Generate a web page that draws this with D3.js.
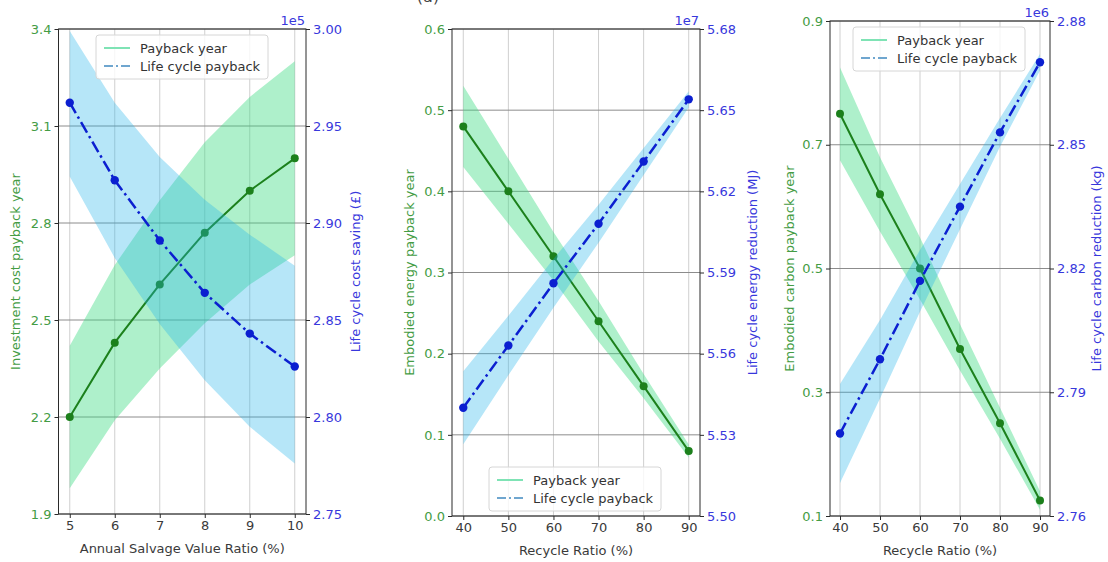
<!DOCTYPE html>
<html>
<head>
<meta charset="utf-8">
<script src="https://cdn.jsdelivr.net/npm/d3@7"></script>
<style>
  html, body { margin: 0; padding: 0; background: #fff; }
  svg { display: block; font-family: "DejaVu Sans", sans-serif; }
</style>
</head>
<body>
<svg id="chart" width="1108" height="562"></svg>
<script>
// ---- data ----
const salvageRatio = [5, 6, 7, 8, 9, 10];
const costPayback = [2.20, 2.43, 2.61, 2.77, 2.90, 3.00];
const costPaybackLow = [1.98, 2.19, 2.35, 2.49, 2.61, 2.70];
const costPaybackHigh = [2.42, 2.67, 2.87, 3.05, 3.19, 3.30];
const costSaving = [2.962, 2.922, 2.891, 2.864, 2.843, 2.826];        // x 1e5
const costSavingLow = [2.924, 2.882, 2.848, 2.819, 2.795, 2.776];
const costSavingHigh = [2.999, 2.962, 2.934, 2.912, 2.894, 2.878];

const recycleRatio = [40, 50, 60, 70, 80, 90];
const energyPayback = [0.48, 0.40, 0.32, 0.24, 0.16, 0.08];
const energyPaybackLow = [0.43, 0.36, 0.29, 0.215, 0.145, 0.072];
const energyPaybackHigh = [0.53, 0.44, 0.35, 0.265, 0.175, 0.088];
const energyReduction = [5.540, 5.563, 5.586, 5.608, 5.631, 5.654];   // x 1e7
const energyReductionLow = [5.5265, 5.552, 5.577, 5.601, 5.626, 5.651];
const energyReductionHigh = [5.5535, 5.574, 5.595, 5.615, 5.636, 5.657];

const carbonPayback = [0.75, 0.62, 0.50, 0.37, 0.25, 0.125];
const carbonPaybackLow = [0.675, 0.56, 0.45, 0.335, 0.225, 0.11];
const carbonPaybackHigh = [0.825, 0.68, 0.55, 0.41, 0.275, 0.14];
const carbonReduction = [2.780, 2.798, 2.817, 2.835, 2.853, 2.870];   // x 1e6
const carbonReductionLow = [2.768, 2.7885, 2.8095, 2.8295, 2.8495, 2.868];
const carbonReductionHigh = [2.792, 2.8075, 2.8245, 2.8405, 2.8565, 2.872];

// tick labels
const costPaybackTicks = ["1.9", "2.2", "2.5", "2.8", "3.1", "3.4"];
const costSavingTicks = ["2.75", "2.80", "2.85", "2.90", "2.95", "3.00"];
const energyPaybackTicks = ["0.0", "0.1", "0.2", "0.3", "0.4", "0.5", "0.6"];
const energyReductionTicks = ["5.50", "5.53", "5.56", "5.59", "5.62", "5.65", "5.68"];
const carbonPaybackTicks = ["0.1", "0.3", "0.5", "0.7", "0.9"];
const carbonReductionTicks = ["2.76", "2.79", "2.82", "2.85", "2.88"];

const legendLabels = ["Payback year", "Life cycle payback"];

// ---- styling ----
const C = {
  greenBand: "#3ddc84", greenBandOpacity: 0.42,
  blueBand: "#22b4ea", blueBandOpacity: 0.33,
  greenLine: "#1c801c", blueLine: "#0b1fd0",
  leftText: "#449c44", rightText: "#3838dc",
  gridH: "#8c8c8c", gridV: "#cfcfcf", spine: "#2a2a2a", tickText: "#3a3a3a"
};
const FS = 13;

const svg = d3.select("#chart");

// caption sitting at the very top edge
svg.append("text").attr("x", 428).attr("y", 2).attr("text-anchor", "middle")
  .attr("font-size", 16).attr("fill", "#444").text("(a)");

function panel(cfg) {
  const g = svg.append("g");
  const x = d3.scaleLinear().domain(cfg.xDomain).range([cfg.left, cfg.right]);
  const leftVals = cfg.leftTicks.map(Number);
  const rightVals = cfg.rightTicks.map(Number);
  const yL = d3.scaleLinear().domain(d3.extent(leftVals)).range([cfg.bottom, cfg.top]);
  const yR = d3.scaleLinear().domain(d3.extent(rightVals)).range([cfg.bottom, cfg.top]);

  // grid (host + twin grids coincide, giving darker horizontal lines)
  const grid = g.append("g");
  grid.selectAll(".v").data(cfg.xs).join("line")
    .attr("x1", d => x(d)).attr("x2", d => x(d))
    .attr("y1", cfg.top).attr("y2", cfg.bottom)
    .attr("stroke", C.gridV).attr("stroke-width", 1);
  grid.selectAll(".h").data(leftVals).join("line")
    .attr("x1", cfg.left).attr("x2", cfg.right)
    .attr("y1", d => yL(d)).attr("y2", d => yL(d))
    .attr("stroke", C.gridH).attr("stroke-width", 1);

  const idx = d3.range(cfg.xs.length);
  const areaL = d3.area().x(i => x(cfg.xs[i])).y0(i => yL(cfg.gLow[i])).y1(i => yL(cfg.gHigh[i]));
  const areaR = d3.area().x(i => x(cfg.xs[i])).y0(i => yR(cfg.bLow[i])).y1(i => yR(cfg.bHigh[i]));
  const lineL = d3.line().x(i => x(cfg.xs[i])).y(i => yL(cfg.g[i]));
  const lineR = d3.line().x(i => x(cfg.xs[i])).y(i => yR(cfg.b[i]));

  g.append("path").attr("d", areaL(idx)).attr("fill", C.greenBand).attr("fill-opacity", C.greenBandOpacity);
  g.append("path").attr("d", lineL(idx)).attr("fill", "none").attr("stroke", C.greenLine).attr("stroke-width", 2);
  g.selectAll(".gm").data(idx).join("circle")
    .attr("cx", i => x(cfg.xs[i])).attr("cy", i => yL(cfg.g[i])).attr("r", 4).attr("fill", C.greenLine);

  g.append("path").attr("d", areaR(idx)).attr("fill", C.blueBand).attr("fill-opacity", C.blueBandOpacity);
  g.append("path").attr("d", lineR(idx)).attr("fill", "none").attr("stroke", C.blueLine)
    .attr("stroke-width", 2.5).attr("stroke-dasharray", "12,4,2.5,4");
  g.selectAll(".bm").data(idx).join("circle")
    .attr("cx", i => x(cfg.xs[i])).attr("cy", i => yR(cfg.b[i])).attr("r", 4.2).attr("fill", C.blueLine);

  // spines
  g.append("rect").attr("x", cfg.left).attr("y", cfg.top)
    .attr("width", cfg.right - cfg.left).attr("height", cfg.bottom - cfg.top)
    .attr("fill", "none").attr("stroke", C.spine).attr("stroke-width", 1);

  // axes
  const ax = g.append("g").attr("transform", `translate(0,${cfg.bottom})`)
    .call(d3.axisBottom(x).tickValues(cfg.xs).tickFormat(d3.format("d")).tickSize(4).tickPadding(3));
  const ayL = g.append("g").attr("transform", `translate(${cfg.left},0)`)
    .call(d3.axisLeft(yL).tickValues(leftVals).tickFormat((d, i) => cfg.leftTicks[i]).tickSize(4).tickPadding(3));
  const ayR = g.append("g").attr("transform", `translate(${cfg.right},0)`)
    .call(d3.axisRight(yR).tickValues(rightVals).tickFormat((d, i) => cfg.rightTicks[i]).tickSize(4).tickPadding(3));
  [ax, ayL, ayR].forEach(a => {
    a.select(".domain").remove();
    a.selectAll("text").attr("font-size", FS).attr("font-family", "DejaVu Sans");
  });
  ax.selectAll("line").attr("stroke", C.spine);
  ax.selectAll("text").attr("fill", C.tickText);
  ayL.selectAll("line").attr("stroke", C.spine);
  ayL.selectAll("text").attr("fill", C.leftText);
  ayR.selectAll("line").attr("stroke", C.spine);
  ayR.selectAll("text").attr("fill", C.rightText);

  // offset text
  g.append("text").attr("x", cfg.right - 1).attr("y", cfg.top - 4).attr("text-anchor", "end")
    .attr("font-size", FS).attr("fill", C.rightText).text(cfg.offset);

  // axis titles
  const midY = (cfg.top + cfg.bottom) / 2;
  g.append("text").attr("transform", `translate(${cfg.leftLabelX},${midY}) rotate(-90)`)
    .attr("text-anchor", "middle").attr("font-size", FS).attr("fill", C.leftText).text(cfg.leftLabel);
  g.append("text").attr("transform", `translate(${cfg.rightLabelX},${midY}) rotate(-90)`)
    .attr("text-anchor", "middle").attr("font-size", FS).attr("fill", C.rightText).text(cfg.rightLabel);
  g.append("text").attr("x", (cfg.left + cfg.right) / 2).attr("y", cfg.bottom + 39)
    .attr("text-anchor", "middle").attr("font-size", FS).attr("fill", C.tickText).text(cfg.xLabel);

  // legend
  const L = cfg.legend;
  const lg = g.append("g").attr("transform", `translate(${L.x},${L.y})`);
  lg.append("rect").attr("width", L.w).attr("height", 44).attr("rx", 3)
    .attr("fill", "#fff").attr("fill-opacity", 0.8).attr("stroke", "#d6d6d6");
  lg.append("line").attr("x1", 8).attr("x2", 34).attr("y1", 13).attr("y2", 13)
    .attr("stroke", "#7fe3b5").attr("stroke-width", 2);
  lg.append("line").attr("x1", 8).attr("x2", 34).attr("y1", 31).attr("y2", 31)
    .attr("stroke", "#6fa6cf").attr("stroke-width", 2).attr("stroke-dasharray", "9,3,2,3");
  lg.selectAll(".lt").data(legendLabels).join("text")
    .attr("x", 44).attr("y", (d, i) => 17.5 + i * 18)
    .attr("font-size", FS).attr("fill", "#333").text(d => d);
}

panel({
  xs: salvageRatio, xDomain: [4.75, 10.25],
  left: 58.5, right: 306, top: 29, bottom: 514,
  g: costPayback, gLow: costPaybackLow, gHigh: costPaybackHigh,
  b: costSaving, bLow: costSavingLow, bHigh: costSavingHigh,
  leftTicks: costPaybackTicks, rightTicks: costSavingTicks, offset: "1e5",
  leftLabel: "Investment cost payback year", rightLabel: "Life cycle cost saving (£)",
  xLabel: "Annual Salvage Value Ratio (%)", leftLabelX: 20, rightLabelX: 360,
  legend: { x: 96, y: 35, w: 172 }
});

panel({
  xs: recycleRatio, xDomain: [37.5, 92.5],
  left: 452, right: 700, top: 29, bottom: 516,
  g: energyPayback, gLow: energyPaybackLow, gHigh: energyPaybackHigh,
  b: energyReduction, bLow: energyReductionLow, bHigh: energyReductionHigh,
  leftTicks: energyPaybackTicks, rightTicks: energyReductionTicks, offset: "1e7",
  leftLabel: "Embodied energy payback year", rightLabel: "Life cycle energy reduction (MJ)",
  xLabel: "Recycle Ratio (%)", leftLabelX: 414, rightLabelX: 757,
  legend: { x: 489, y: 467, w: 172 }
});

panel({
  xs: recycleRatio, xDomain: [37.5, 92.5],
  left: 830, right: 1050, top: 21, bottom: 516,
  g: carbonPayback, gLow: carbonPaybackLow, gHigh: carbonPaybackHigh,
  b: carbonReduction, bLow: carbonReductionLow, bHigh: carbonReductionHigh,
  leftTicks: carbonPaybackTicks, rightTicks: carbonReductionTicks, offset: "1e6",
  leftLabel: "Embodied carbon payback year", rightLabel: "Life cycle carbon reduction (kg)",
  xLabel: "Recycle Ratio (%)", leftLabelX: 794, rightLabelX: 1101,
  legend: { x: 853, y: 27, w: 172 }
});
</script>
</body>
</html>
